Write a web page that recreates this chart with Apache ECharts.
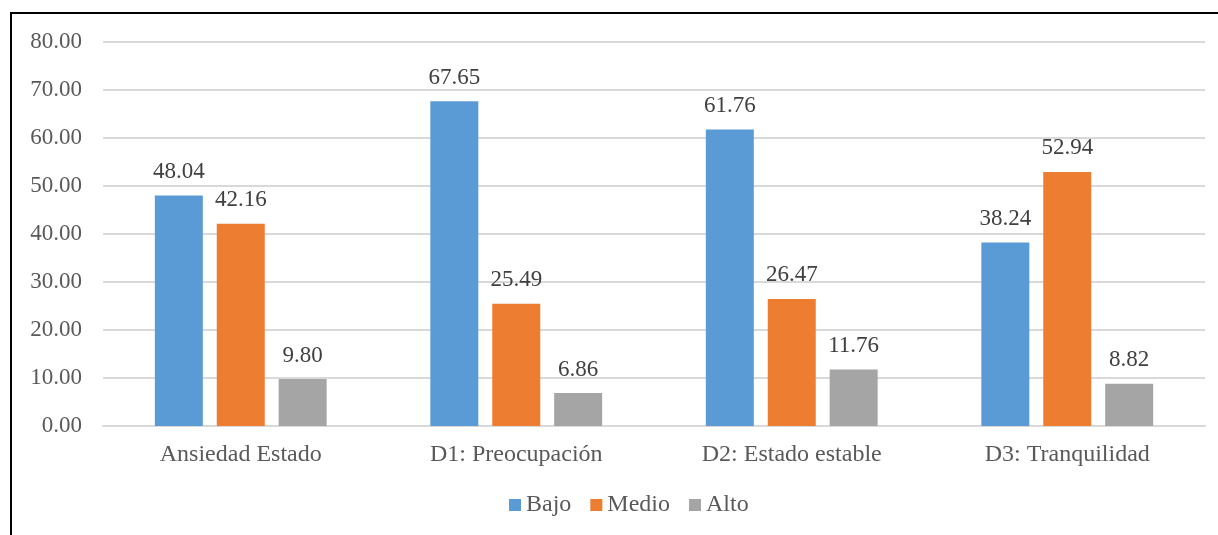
<!DOCTYPE html>
<html><head><meta charset="utf-8">
<script src="https://cdn.jsdelivr.net/npm/echarts@6/dist/echarts.min.js"></script>
<style>html,body{margin:0;padding:0;background:#fff}#c{width:1218px;height:535px}</style>
</head><body><div id="c"></div>
<script>
const categories = ['Ansiedad Estado', 'D1: Preocupación', 'D2: Estado estable', 'D3: Tranquilidad'];
const bajo = [48.04, 67.65, 61.76, 38.24];
const medio = [42.16, 25.49, 26.47, 52.94];
const alto = [9.80, 6.86, 11.76, 8.82];
const seriesNames = ['Bajo', 'Medio', 'Alto'];
const colors = ['#5B9BD5', '#ED7D31', '#A5A5A5'];
const font = '"Liberation Serif", "Times New Roman", serif';

const chart = echarts.init(document.getElementById('c'));
const mk = (name, data, color) => ({
  name, type: 'bar', data, barWidth: 48, barGap: '29%',
  itemStyle: { color },
  label: { show: true, position: 'top', distance: 12, formatter: p => p.value.toFixed(2),
    fontFamily: font, fontSize: 23, color: '#404040' }
});
chart.setOption({
  animation: false,
  grid: { left: 103, right: 13, top: 42, bottom: 109 },
  graphic: [{ type: 'polyline', shape: { points: [[11, 540], [11, 13], [1220, 13]] },
    style: { stroke: '#000', lineWidth: 2, fill: null } }],
  legend: { data: seriesNames, left: 504, top: 488, itemWidth: 12, itemHeight: 12, itemGap: 19,
    icon: 'rect', textStyle: { fontFamily: font, fontSize: 24, color: '#595959' } },
  xAxis: { type: 'category', data: categories,
    axisLine: { lineStyle: { color: '#D9D9D9', width: 2 } }, axisTick: { show: false },
    axisLabel: { fontFamily: font, fontSize: 24, color: '#595959', margin: 17 } },
  yAxis: { type: 'value', min: 0, max: 80, interval: 10,
    axisLine: { show: false }, axisTick: { show: false },
    splitLine: { lineStyle: { color: '#D9D9D9', width: 2 } },
    axisLabel: { fontFamily: font, fontSize: 23, color: '#595959', margin: 21, formatter: v => v.toFixed(2) } },
  series: [mk('Bajo', bajo, colors[0]), mk('Medio', medio, colors[1]), mk('Alto', alto, colors[2])]
});
</script></body></html>
